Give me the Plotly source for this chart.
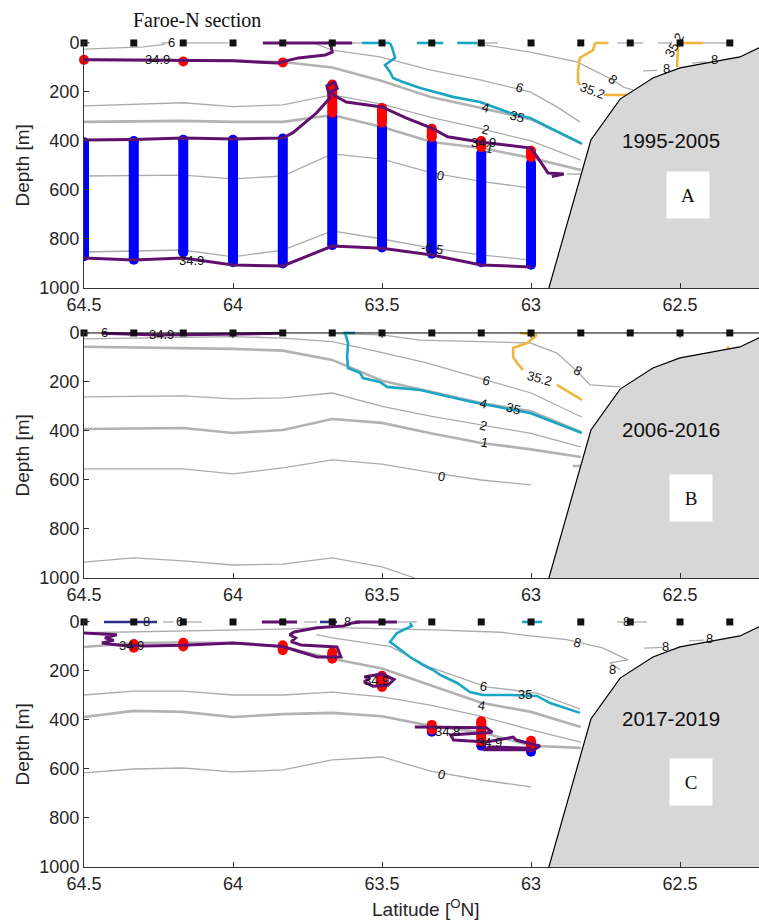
import plotly.graph_objects as go

# ---------------- data ----------------
stations = [64.5, 64.333, 64.167, 64.0, 63.833, 63.667, 63.5, 63.333, 63.167, 63.0, 62.833, 62.667, 62.5, 62.333]
tick_lat = [64.5, 64.0, 63.5, 63.0, 62.5]
tick_lat_text = ["64.5", "64", "63.5", "63", "62.5"]
tick_dep = [0, 200, 400, 600, 800, 1000]

land_lat = [62.94, 62.799, 62.701, 62.591, 62.5, 62.299, 62.235, 62.1]
land_dep = [1000, 396, 229, 143, 102, 57, 20, -40]

# ---- Panel A (1995-2005)
A_c4_dep = [67, 68, 70, 72, 78, 100, 155, 222, 265, 312, 408]
A_c2_dep = [257, 252, 244, 260, 253, 212, 250, 305, 350, 400, 478]
A_c1_dep = [322, 320, 318, 322, 322, 294, 343, 404, 429, 469, 518]
A_c0_dep = [543, 541, 539, 555, 543, 453, 474, 530, 565, 592]
A_cm_dep = [853, 850, 845, 873, 845, 767, 800, 837, 865, 886]
A_c6a_lat = [64.5, 64.4, 64.3, 64.23]
A_c6a_dep = [25, 22, 16, 6]
A_c6b_lat = [63.72, 63.667, 63.507, 63.339, 63.171, 63.003, 62.913, 62.836]
A_c6b_dep = [5, 29, 57, 110, 151, 200, 261, 322]
A_c8_lat = [63.2, 63.003, 62.846, 62.76, 62.725, 62.69, 62.655]
A_c8_dep = [0, 37, 77, 131, 151, 180, 192]
A_short_lat = [[62.88, 62.83], [62.624, 62.577], [62.46, 62.41]]
A_short_dep = [[535, 535], [114, 112], [82, 77]]
A_surf_gray = [(64.5, 64.48), (64.24, 64.215), (64.16, 64.015), (63.6, 63.567), (63.181, 63.111),
               (62.711, 62.624), (62.574, 62.534), (62.423, 62.322)]
A_surf_purple = [(63.9, 63.6)]
A_surf_cyan = [(63.567, 63.473), (63.383, 63.295), (63.248, 63.181)]
A_surf_orange = [(62.785, 62.74), (62.49, 62.423)]
A_surf_navy = [(64.01, 63.99)]
A_p1_lat = [64.5, 64.333, 64.25, 64.167, 64.0, 63.85, 63.78, 63.69, 63.667, 63.672, 63.66]
A_p1_dep = [69, 70, 69, 69, 73, 82, 61, 49, 37, 8, 0]
A_p2_lat = [64.5, 64.333, 64.167, 64.0, 63.833, 63.8, 63.72, 63.675, 63.685, 63.66, 63.65, 63.672,
            63.66, 63.62, 63.5, 63.42, 63.333, 63.28, 63.17, 63.0, 62.977, 62.943, 62.89, 62.93]
A_p2_dep = [396, 394, 388, 392, 388, 367, 286, 225, 175, 160, 185, 200,
            215, 241, 261, 306, 347, 383, 404, 429, 469, 531, 535, 545]
A_p3_dep = [878, 886, 878, 906, 910, 829, 838, 865, 906, 914]
A_blue_top = [405, 400, 395, 395, 390, 300, 345, 410, 450, 490]
A_blue_bot = [870, 885, 855, 895, 900, 825, 835, 860, 895, 905]
A_red_lat = [63.667, 63.5, 63.333, 63.167, 63.0]
A_red_top = [170, 265, 350, 400, 440]
A_red_bot = [285, 325, 385, 425, 465]
A_dot_lat = [64.5, 64.167, 63.833]
A_dot_dep = [69, 76, 80]
A_cy_lat = [63.473, 63.466, 63.456, 63.49, 63.473, 63.463, 63.43, 63.372, 63.262, 63.171, 63.07, 63.003, 62.936, 62.829]
A_cy_dep = [0, 20, 61, 90, 118, 143, 159, 184, 220, 241, 286, 306, 347, 412]
A_or_lat = [[62.785, 62.792, 62.836, 62.842, 62.842, 62.835], [62.755, 62.678], [62.49, 62.507, 62.51]]
A_or_dep = [[0, 29, 61, 110, 159, 172], [212, 212], [0, 16, 98]]
A_labels = [(64.205, 0, "6", 0), (64.255, 69, "34.9", 0), (64.14, 886, "34.9", 0),
            (63.04, 182, "6", 18), (63.154, 265, "4", 15), (63.047, 300, "35", 15),
            (63.154, 355, "2", 15), (63.16, 408, "34.9", 0), (63.138, 429, "1", 12),
            (63.305, 539, "0", 12), (63.332, 837, "-0.5", 8), (62.725, 151, "8", 40),
            (62.795, 192, "35.2", 20), (62.517, 8, "35.2", -60), (62.547, 106, "8", 0),
            (62.383, 69, "8", 0)]

# ---- Panel B (2006-2016)
B_c6_lat = [64.5, 64.333, 64.167, 64.0, 63.833, 63.667, 63.54, 63.35, 63.15, 63.0, 62.83]
B_c6_dep = [24, 22, 18, 15, 21, 35, 69, 122, 192, 245, 343]
B_c8_lat = [63.667, 63.5, 63.372, 63.003, 62.913, 62.846, 62.802, 62.701]
B_c8_dep = [3, 8, 29, 41, 82, 155, 212, 220]
B_c4_dep = [56, 58, 61, 65, 72, 110, 195, 240, 286, 320, 404]
B_c2_dep = [261, 258, 257, 269, 265, 245, 300, 340, 376, 410, 465]
B_c1_dep = [392, 390, 388, 408, 396, 351, 367, 410, 449, 475, 506]
B_c0_dep = [555, 555, 555, 575, 551, 518, 535, 570, 600, 620]
B_cm_lat = [64.5, 64.333, 64.167, 64.0, 63.833, 63.667, 63.5, 63.39]
B_cm_dep = [935, 918, 930, 947, 943, 918, 955, 1000]
B_short_lat = [[62.86, 62.83]]
B_short_dep = [[543, 543]]
B_cy_lat = [63.624, 63.614, 63.617, 63.614, 63.574, 63.564, 63.507, 63.483, 63.372, 63.205, 63.003, 62.829]
B_cy_dep = [0, 41, 98, 143, 163, 184, 200, 220, 233, 280, 327, 408]
B_or_lat = [[63.037, 62.98, 63.013, 63.06, 63.06, 63.047, 63.027], [62.913, 62.829], [62.34, 62.335]]
B_or_dep = [[0, 8, 41, 61, 98, 122, 151], [212, 273], [55, 75]]
B_p_lat = [64.44, 64.35, 64.25, 64.1, 63.95, 63.83]
B_p_dep = [1, 5, 8, 6, 4, 1]
B_surf_cyan = [(63.63, 63.59)]
B_labels = [(64.43, 0, "6", 0), (64.24, 6, "34.9", 0), (63.15, 192, "6", 15),
            (62.845, 155, "8", 30), (62.97, 184, "35.2", 15), (63.16, 286, "4", 15),
            (63.06, 310, "35", 15), (63.16, 376, "2", 15), (63.155, 449, "1", 10),
            (63.30, 584, "0", 10)]

# ---- Panel C (2017-2019)
C_c8_lat = [64.5, 64.167, 64.0, 63.833, 63.69, 63.5, 63.33, 63.1, 63.003, 62.88, 62.846, 62.76, 62.675, 62.735, 62.70]
C_c8_dep = [44, 35, 33, 29, 22, 26, 32, 42, 57, 72, 82, 106, 155, 167, 196]
C_c6_lat = [63.72, 63.667, 63.473, 63.34, 63.15, 62.98, 62.836]
C_c6_dep = [52, 65, 100, 184, 265, 290, 355]
C_c4_dep = [102, 86, 84, 86, 100, 150, 190, 260, 330, 367, 429]
C_c2_dep = [298, 282, 282, 298, 298, 286, 306, 340, 385, 440, 490]
C_c1_dep = [388, 363, 367, 388, 376, 371, 385, 425, 450, 505, 514]
C_c0_dep = [616, 600, 596, 612, 604, 563, 551, 610, 645, 673]
C_short_lat = [[62.62, 62.56], [62.47, 62.42]]
C_short_dep = [[107, 104], [77, 74]]
C_cy_lat = [63.406, 63.4, 63.45, 63.473, 63.45, 63.406, 63.362, 63.329, 63.305, 63.248, 63.205, 63.161, 63.07, 62.98, 62.936, 62.836]
C_cy_dep = [4, 16, 45, 82, 102, 143, 176, 196, 216, 249, 286, 298, 298, 302, 331, 371]
C_p1_lat = [64.5, 64.39, 64.43, 64.4, 64.44, 64.38, 64.3, 64.167, 64.0, 63.92, 63.833, 63.718, 63.638,
            63.651, 63.772, 63.805, 63.79, 63.81, 63.795, 63.718, 63.628, 63.6, 63.574]
C_p1_dep = [45, 52, 65, 75, 86, 95, 98, 95, 86, 94, 100, 143, 143,
            102, 94, 80, 65, 52, 41, 24, 16, 4, 0]
C_p2_lat = [63.56, 63.5, 63.46, 63.48, 63.53, 63.56, 63.54]
C_p2_dep = [225, 212, 235, 258, 262, 245, 228]
C_p3_lat = [63.39, 63.15, 63.13, 63.27, 63.26, 63.15, 63.06, 63.05, 62.97, 62.99, 63.16, 63.14, 63.0]
C_p3_dep = [429, 432, 450, 461, 482, 490, 470, 482, 506, 522, 522, 510, 515]
C_red_lat = [64.333, 64.167, 63.833, 63.667, 63.5, 63.333, 63.167, 63.0]
C_red_top = [90, 85, 95, 125, 220, 420, 405, 485]
C_red_bot = [105, 100, 115, 150, 265, 440, 490, 510]
C_blue_lat = [63.333, 63.167, 63.0]
C_blue_dep = [448, 505, 530]
C_surf_gray = [(64.5, 64.48), (64.235, 64.2), (64.164, 64.104), (63.762, 63.718), (63.45, 63.383), (62.711, 62.611)]
C_surf_purple = [(63.903, 63.785), (63.591, 63.45)]
C_surf_navy = [(64.433, 64.255), (63.708, 63.651)]
C_surf_cyan = [(63.03, 62.963)]
C_labels = [(64.29, 0, "8", 0), (64.18, 0, "6", 0), (64.34, 96, "34.9", 0), (63.617, 0, "8", 0),
            (62.678, 0, "8", 0), (62.845, 82, "8", 15), (62.725, 192, "8", 0), (62.55, 102, "8", 0),
            (62.4, 69, "8", 0), (63.16, 265, "6", 10), (63.02, 294, "35", 0), (63.165, 339, "4", 10),
            (63.30, 624, "0", 15), (63.52, 237, "34.9", 0), (63.28, 445, "34.8", 0), (63.14, 490, "34.9", 0)]

year_labels = ["1995-2005", "2006-2016", "2017-2019"]
panel_letters = ["A", "B", "C"]

# ---------------- styles ----------------
THIN = dict(color='#ababab', width=1.3)
THICK = dict(color='#b2b2b2', width=2.6)
PURPLE = '#62106f'
CYAN = '#1aa6c2'
ORANGE = '#f2b440'
NAVY = '#2d2d8f'
SANS = 'Liberation Sans, Arial, Helvetica, sans-serif'
SERIF = 'Liberation Serif, Times New Roman, serif'

AX = {'A': ('x', 'y'), 'B': ('x2', 'y2'), 'C': ('x3', 'y3')}
fig = go.Figure()


def line(p, lat, dep, ln):
    xa, ya = AX[p]
    fig.add_trace(go.Scatter(x=lat, y=dep, xaxis=xa, yaxis=ya, mode='lines', line=ln,
                             hoverinfo='skip', showlegend=False))


def multiline(p, lats, deps, ln):
    xs, ys = [], []
    for la, de in zip(lats, deps):
        xs += list(la) + [None]
        ys += list(de) + [None]
    line(p, xs, ys, ln)


def surface(p, segs, ln):
    multiline(p, segs, [[0, 0] for _ in segs], ln)


def bars(p, lats, tops, bots, color, w):
    xa, ya = AX[p]
    xs, ys = [], []
    for la, t, b in zip(lats, tops, bots):
        xs += [la, la, None]
        ys += [t, b, None]
    fig.add_trace(go.Scatter(x=xs, y=ys, xaxis=xa, yaxis=ya, mode='lines+markers',
                             line=dict(color=color, width=w),
                             marker=dict(color=color, size=w, line=dict(width=0)),
                             hoverinfo='skip', showlegend=False))


def dots(p, lat, dep, color, size, symbol='circle'):
    xa, ya = AX[p]
    fig.add_trace(go.Scatter(x=lat, y=dep, xaxis=xa, yaxis=ya, mode='markers',
                             marker=dict(color=color, size=size, symbol=symbol, line=dict(width=0)),
                             cliponaxis=False, hoverinfo='skip', showlegend=False))


def labels(p, items):
    xa, ya = AX[p]
    for la, de, tx, ang in items:
        fig.add_annotation(x=la, y=de, xref=xa, yref=ya, text=tx, textangle=ang, showarrow=False,
                           xanchor='center', yanchor='middle',
                           font=dict(size=13, color='#111', family=SANS))


def land(p):
    xa, ya = AX[p]
    fig.add_trace(go.Scatter(x=land_lat + [land_lat[-1], land_lat[0]], y=land_dep + [1000, 1000],
                             xaxis=xa, yaxis=ya, mode='lines', fill='toself', fillcolor='#d7d7d7',
                             line=dict(width=0, color='#d7d7d7'), hoverinfo='skip', showlegend=False))
    line(p, land_lat, land_dep, dict(color='black', width=1.2))


st11 = stations[:11]
st10 = stations[:10]

# ---- Panel A
line('A', st11, A_c4_dep, THICK)
line('A', st11, A_c2_dep, THIN)
line('A', st11, A_c1_dep, THICK)
line('A', st10, A_c0_dep, THIN)
line('A', st10, A_cm_dep, THIN)
line('A', A_c6a_lat, A_c6a_dep, THIN)
line('A', A_c6b_lat, A_c6b_dep, THIN)
line('A', A_c8_lat, A_c8_dep, THIN)
multiline('A', A_short_lat, A_short_dep, THIN)
surface('A', A_surf_gray, THIN)
line('A', A_cy_lat, A_cy_dep, dict(color=CYAN, width=2.6))
surface('A', A_surf_cyan, dict(color=CYAN, width=2.6))
multiline('A', A_or_lat, A_or_dep, dict(color=ORANGE, width=2.6))
surface('A', A_surf_orange, dict(color=ORANGE, width=2.6))
surface('A', A_surf_navy, dict(color=NAVY, width=2.6))
bars('A', st10, A_blue_top, A_blue_bot, '#0000ff', 10)
bars('A', A_red_lat, A_red_top, A_red_bot, '#ff0000', 10)
dots('A', A_dot_lat, A_dot_dep, '#ff0000', 10)
line('A', A_p1_lat, A_p1_dep, dict(color=PURPLE, width=3))
line('A', A_p2_lat, A_p2_dep, dict(color=PURPLE, width=3))
line('A', st10, A_p3_dep, dict(color=PURPLE, width=3))
surface('A', A_surf_purple, dict(color=PURPLE, width=3))
land('A')

# ---- Panel B
line('B', B_c6_lat, B_c6_dep, THIN)
line('B', B_c8_lat, B_c8_dep, THIN)
line('B', st11, B_c4_dep, THICK)
line('B', st11, B_c2_dep, THIN)
line('B', st11, B_c1_dep, THICK)
line('B', st10, B_c0_dep, THIN)
line('B', B_cm_lat, B_cm_dep, THIN)
multiline('B', B_short_lat, B_short_dep, THICK)
line('B', B_cy_lat, B_cy_dep, dict(color=CYAN, width=2.6))
surface('B', B_surf_cyan, dict(color=CYAN, width=2.6))
multiline('B', B_or_lat, B_or_dep, dict(color=ORANGE, width=2.6))
line('B', B_p_lat, B_p_dep, dict(color=PURPLE, width=3))
land('B')
# top frame line of panel B with its ticks
line('B', [stations[0], 62.0], [0, 0], dict(color='black', width=1))
multiline('B', [[t, t] for t in tick_lat[1:]], [[0, 20] for _ in tick_lat[1:]], dict(color='black', width=1))

# ---- Panel C
line('C', C_c8_lat, C_c8_dep, THIN)
line('C', C_c6_lat, C_c6_dep, THIN)
line('C', st11, C_c4_dep, THICK)
line('C', st11, C_c2_dep, THIN)
line('C', st11, C_c1_dep, THICK)
line('C', st10, C_c0_dep, THIN)
multiline('C', C_short_lat, C_short_dep, THIN)
surface('C', C_surf_gray, THIN)
line('C', C_cy_lat, C_cy_dep, dict(color=CYAN, width=2.6))
surface('C', C_surf_cyan, dict(color=CYAN, width=2.6))
surface('C', C_surf_navy, dict(color=NAVY, width=2.6))
dots('C', C_blue_lat, C_blue_dep, '#0000ff', 10)
bars('C', C_red_lat, C_red_top, C_red_bot, '#ff0000', 10)
line('C', C_p1_lat, C_p1_dep, dict(color=PURPLE, width=3))
line('C', C_p2_lat, C_p2_dep, dict(color=PURPLE, width=3))
line('C', C_p3_lat, C_p3_dep, dict(color=PURPLE, width=3))
surface('C', C_surf_purple, dict(color=PURPLE, width=3))
land('C')

# station markers
for p in 'ABC':
    dots(p, stations, [0] * len(stations), '#111111', 7, 'square')

labels('A', A_labels)
labels('B', B_labels)
labels('C', C_labels)

# ---------------- layout ----------------
W, Hh = 759, 920
top_px = [41, 331, 620]
bot_px = [288, 578, 867]
mt, mb = top_px[0], Hh - bot_px[2]
PH = bot_px[2] - top_px[0]


def dom(i):
    return [(bot_px[2] - bot_px[i]) / PH, (bot_px[2] - top_px[i]) / PH]


axis_font = dict(size=18, color='#262626', family=SANS)
xcommon = dict(range=[64.5, 62.235], tickvals=tick_lat, ticktext=tick_lat_text, ticks='inside',
               ticklen=5, tickcolor='#333', showline=True, linecolor='#333', linewidth=1,
               showgrid=False, zeroline=False, tickfont=axis_font)
ycommon = dict(range=[1000, -8], tickvals=tick_dep, ticks='inside', ticklen=5, tickcolor='#333',
               showline=True, linecolor='#333', linewidth=1, showgrid=False, zeroline=False,
               tickfont=axis_font)

layout = dict(width=W, height=Hh, margin=dict(l=84, r=0, t=mt, b=mb),
              paper_bgcolor='white', plot_bgcolor='white', showlegend=False)
names = ['', '2', '3']
for i, n in enumerate(names):
    layout['xaxis' + n] = dict(xcommon, anchor='y' + n, domain=[0, 1])
    layout['yaxis' + n] = dict(ycommon, anchor='x' + n, domain=dom(i))
fig.update_layout(**layout)

# panel texts
year_dep = [396, 392, 392]
letter_dep = [620, 673, 653]
letter_lat = [62.473, 62.463, 62.463]
for i, p in enumerate('ABC'):
    xa, ya = AX[p]
    fig.add_annotation(x=62.53, y=year_dep[i], xref=xa, yref=ya, text=year_labels[i], showarrow=False,
                       xanchor='center', yanchor='middle',
                       font=dict(size=20.5, color='#111', family=SANS))
    fig.add_annotation(x=letter_lat[i], y=letter_dep[i], xref=xa, yref=ya, text=panel_letters[i],
                       showarrow=False, bgcolor='white', width=42, height=46, borderpad=0,
                       xanchor='center', yanchor='middle',
                       font=dict(size=19, color='#111', family=SERIF))
    yc = ((bot_px[2] - (top_px[i] + 2 + bot_px[i]) / 2) / PH)
    fig.add_annotation(x=(22 - 84) / 675, y=yc, xref='paper', yref='paper', text='Depth [m]',
                       textangle=-90, showarrow=False, xanchor='center', yanchor='middle',
                       font=dict(size=19, color='#262626', family=SANS))

fig.add_annotation(x=(426 - 84) / 675, y=(bot_px[2] - 908) / PH, xref='paper', yref='paper',
                   text='Latitude [<sup>O</sup>N]', showarrow=False, xanchor='center', yanchor='middle',
                   font=dict(size=19, color='#262626', family=SANS))
fig.add_annotation(x=(197 - 84) / 675, y=(bot_px[2] - 20) / PH, xref='paper', yref='paper',
                   text='Faroe-N section', showarrow=False, xanchor='center', yanchor='middle',
                   font=dict(size=20, color='#111', family=SERIF))

fig.write_html("out.html")
